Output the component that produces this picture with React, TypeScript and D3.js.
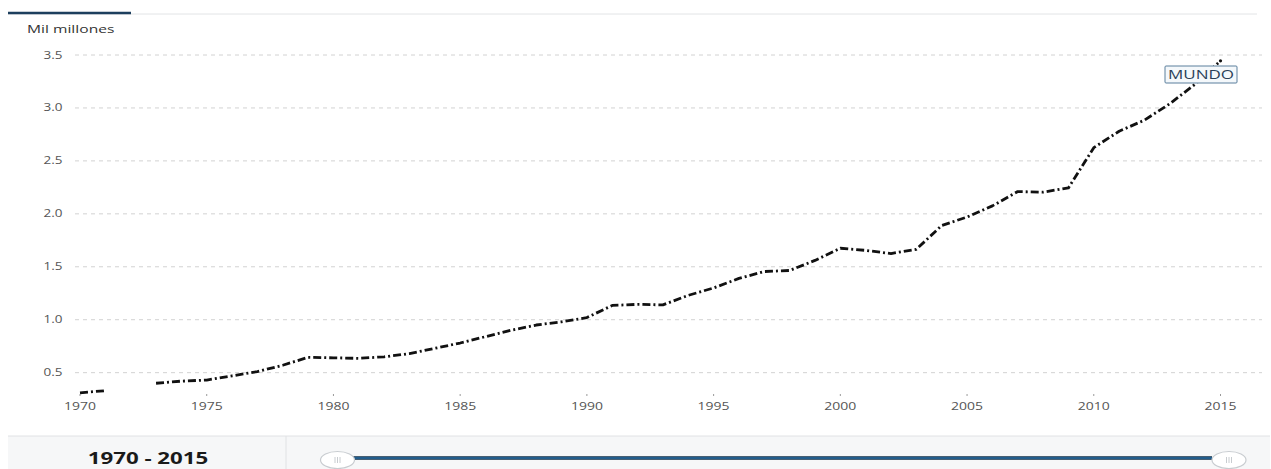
import React from "react";
import * as d3 from "d3";

const years: number[] = d3.range(1970, 2016);
const values: (number | null)[] = [
  0.31, 0.33, null, 0.40, 0.42, 0.43, 0.47, 0.51, 0.57, 0.645,
  0.64, 0.635, 0.65, 0.68, 0.73, 0.78, 0.84, 0.90, 0.95, 0.98,
  1.02, 1.135, 1.145, 1.14, 1.23, 1.30, 1.39, 1.455, 1.465, 1.56,
  1.675, 1.655, 1.625, 1.665, 1.89, 1.97, 2.075, 2.21, 2.205, 2.245,
  2.625, 2.78, 2.885, 3.04, 3.225, 3.445,
];
const yTicks: number[] = [0.5, 1.0, 1.5, 2.0, 2.5, 3.0, 3.5];
const xTicks: number[] = [1970, 1975, 1980, 1985, 1990, 1995, 2000, 2005, 2010, 2015];
const unitLabel = "Mil millones";
const seriesLabel = "MUNDO";
const rangeLabel = "1970 - 2015";

const W = 1271;
const H = 469;
const FONT = "'Open Sans', 'Noto Sans', sans-serif";

function WideText(props: {
  x: number;
  y: number;
  sx: number;
  children: React.ReactNode;
  [k: string]: any;
}) {
  const { x, y, sx, children, ...rest } = props;
  return (
    <g transform={`translate(${x},${y}) scale(${sx},1)`}>
      <text x={0} y={0} {...rest}>
        {children}
      </text>
    </g>
  );
}

export default function App() {
  const x = d3.scaleLinear().domain([1970, 2015]).range([80, 1220.5]);
  const y = d3.scaleLinear().domain([0, 3.5]).range([425.6, 55]);
  const data = years.map((yr, i) => ({ yr, v: values[i] }));
  const line = d3
    .line<{ yr: number; v: number | null }>()
    .defined((d) => d.v !== null)
    .x((d) => x(d.yr))
    .y((d) => y(d.v as number));
  const last = data[data.length - 1];

  return (
    <svg
      width={W}
      height={H}
      style={{ position: "absolute", left: 0, top: 0, background: "#fff" }}
      fontFamily={FONT}
    >
      {/* tab indicator */}
      <line x1={8} x2={1257} y1={14} y2={14} stroke="#e2e4e6" strokeWidth={1} />
      <line x1={8} x2={131} y1={13} y2={13} stroke="#1d3f5e" strokeWidth={2.5} />

      <WideText x={27} y={32.5} sx={1.42} fontSize={11} fill="#333">
        {unitLabel}
      </WideText>

      {/* grid */}
      {yTicks.map((t) => (
        <g key={t}>
          <line
            x1={75}
            x2={1262}
            y1={y(t)}
            y2={y(t)}
            stroke="#d2d2d2"
            strokeWidth={1}
            strokeDasharray="4,4"
          />
          <WideText
            x={62.5}
            y={y(t) + 3.5}
            sx={1.35}
            fontSize={10}
            fill="#555"
            textAnchor="end"
          >
            {t.toFixed(1)}
          </WideText>
        </g>
      ))}

      {/* x axis */}
      {xTicks.map((t) => (
        <g key={t}>
          <line x1={x(t)} x2={x(t)} y1={394} y2={396} stroke="#999" strokeWidth={1} />
          <WideText
            x={x(t)}
            y={410}
            sx={1.4}
            fontSize={10}
            fill="#555"
            textAnchor="middle"
          >
            {t}
          </WideText>
        </g>
      ))}

      {/* series line */}
      <path
        d={line(data) || ""}
        fill="none"
        stroke="#111"
        strokeWidth={2.8}
        strokeDasharray="8,3,2,3"
        strokeLinejoin="round"
      />

      {/* series label */}
      <g>
        <rect
          x={1165}
          y={66}
          width={72}
          height={17}
          fill="#f4f8fb"
          stroke="#5a7f9c"
          strokeWidth={1}
          rx={1}
        />
        <WideText
          x={1201}
          y={79}
          sx={1.42}
          fontSize={12}
          fill="#2a3f58"
          textAnchor="middle"
        >
          {seriesLabel}
        </WideText>
      </g>
      <circle cx={x(last.yr)} cy={y(last.v as number)} r={1.6} fill="#111" />

      {/* bottom panel */}
      <rect x={8} y={436} width={1262} height={33} fill="#f6f7f8" />
      <line x1={8} x2={1270} y1={436} y2={436} stroke="#e0e2e4" strokeWidth={1} />
      <line x1={286} x2={286} y1={436} y2={469} stroke="#e0e2e4" strokeWidth={1} />
      <WideText
        x={148}
        y={464}
        sx={1.35}
        fontSize={16.5}
        fontWeight={700}
        fill="#1a1a1a"
        textAnchor="middle"
      >
        {rangeLabel}
      </WideText>

      {/* slider */}
      <line x1={350} x2={1212} y1={458} y2={458} stroke="#0d2c47" strokeWidth={3.5} />
      <line x1={350} x2={1212} y1={458} y2={458} stroke="#2a6ea3" strokeWidth={1.5} />
      {[337.5, 1229].map((cx, i) => (
        <g key={i}>
          <ellipse cx={cx} cy={460} rx={17} ry={8.5} fill="#fff" stroke="#c8ccd0" strokeWidth={1.2} />
          {[-2.5, 0, 2.5].map((dx) => (
            <line
              key={dx}
              x1={cx + dx}
              x2={cx + dx}
              y1={457}
              y2={463}
              stroke="#c8ccd0"
              strokeWidth={1}
            />
          ))}
        </g>
      ))}
    </svg>
  );
}
